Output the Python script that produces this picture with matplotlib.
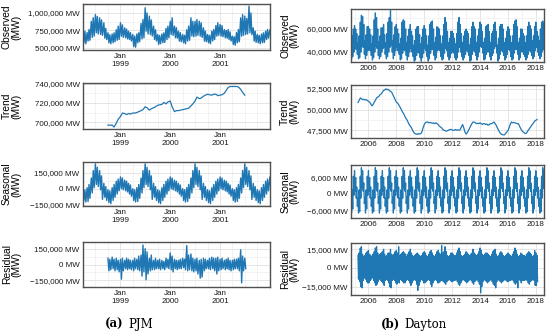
import matplotlib
matplotlib.use("Agg")
import matplotlib.pyplot as plt
import matplotlib.dates as mdates
from matplotlib.ticker import FuncFormatter, FixedLocator, AutoMinorLocator
import pandas as pd

# ---------------- PJM (left column), values in thousands of MW ----------------
# observed: semi-monthly high / low of the hourly load, Apr 1998 .. Jan 2002
pjmObsHi = [700, 740, 720, 764, 880, 931, 978, 950, 931, 900, 860, 780, 717, 690, 700, 717, 760, 812,
            860, 830, 788, 770, 740, 720, 693, 670, 700, 717, 850, 907, 1074, 1000, 955, 900, 812, 760, 693, 680, 700, 717, 780, 812,
            880, 931, 812, 790, 740, 720, 693, 680, 760, 812, 931, 880, 880, 907, 883, 860, 788, 740, 693, 680, 740, 764, 820, 860,
            836, 820, 764, 750, 764, 730, 669, 660, 720, 764, 930, 978, 955, 920, 1098, 1000, 788, 740, 693, 680, 700, 717, 740, 764,
            760]
pjmObsLo = [574, 560, 598, 610, 650, 669, 717, 700, 693, 680, 640, 621, 574, 560, 574, 590, 610, 621,
            669, 650, 645, 630, 621, 600, 520, 510, 574, 590, 630, 645, 740, 700, 693, 670, 621, 600, 550, 560, 574, 580, 620, 645,
            693, 680, 645, 640, 598, 590, 574, 560, 598, 610, 669, 660, 669, 680, 669, 650, 598, 590, 574, 560, 600, 621, 669, 680,
            669, 660, 645, 640, 621, 600, 550, 540, 574, 590, 669, 680, 693, 700, 717, 690, 598, 580, 574, 560, 574, 580, 621, 640,
            660]

# trend: semi-monthly, Oct 1998 .. Jul 2001
pjmTrend = [697, 697, 697, 695, 699, 703,
            706, 709.5, 709, 708, 709, 708.5, 709.5, 709.5, 710, 711, 712, 713, 716, 715, 712.5, 714, 715, 716, 717.5, 718, 718.5, 720.5, 719, 721,
            722, 716, 711, 712, 712, 712.5, 713, 713.5, 714, 714.5, 717, 719, 722, 726, 724.5, 725, 727, 728, 729, 728.5, 728, 729, 729, 727.5,
            728, 728.5, 730, 733, 736, 737, 737, 737, 737, 736.5, 734, 731, 728]

# seasonal: one yearly profile, high / low for each half month (Jan 1, Jan 15, ..., Dec 15)
pjmSeasHi = [110, 100, 80, 70, 50, 35, 0, -10, 10, 40, 100, 170, 233, 200, 170, 120, 50, 20, -10, -20, 10, 40, 70, 90]
pjmSeasLo = [0, -10, -20, -30, -50, -70, -110, -125, -120, -90, -40, 10, 40, 20, -10, -100, -80, -110, -130, -140, -110, -80, -50, -20]

# residual: semi-monthly high / low, Oct 1998 .. Jul 2001
pjmResHi = [60, 50, 70, 50, 60, 40,
            50, 60, 40, 60, 50, 40, 40, 60, 50, 80, 90, 185, 150, 120, 60, 90, 40, 60, 40, 50, 40, 30, 60, 50,
            110, 80, 50, 40, 40, 50, 60, 50, 180, 90, 100, 60, 50, 60, 40, 50, 60, 50, 40, 60, 70, 60, 60, 70,
            50, 60, 40, 50, 60, 40, 40, 50, 50, 60, 140, 80, 60]
pjmResLo = [-60, -50, -40, -60, -50, -70,
            -140, -60, -40, -50, -40, -50, -60, -40, -50, -60, -110, -70, -145, -90, -60, -50, -50, -40, -40, -50, -40, -50, -30, -40,
            -50, -70, -40, -50, -40, -40, -30, -50, -60, -50, -60, -70, -60, -90, -130, -120, -60, -40, -40, -50, -40, -60, -90, -60,
            -50, -40, -50, -40, -50, -60, -50, -40, -40, -60, -175, -60, -40]

# ---------------- Dayton (right column), values in MW ----------------
# observed: monthly high / low, Oct 2004 .. Aug 2018 (thousands of MW)
daytonObsHi = [50, 54, 60,
               63, 60, 56, 48, 54, 66, 72, 71, 64, 50, 55, 62,
               62, 60, 55, 47, 54, 68, 74, 70, 60, 49, 54, 61,
               61, 64, 55, 48, 56, 66, 70, 76, 66, 50, 55, 62,
               64, 60, 56, 47, 52, 66, 68, 67, 60, 48, 54, 60,
               64, 58, 54, 46, 50, 60, 62, 62, 55, 47, 53, 60,
               63, 60, 54, 46, 54, 64, 66, 67, 60, 48, 53, 62,
               61, 60, 54, 47, 54, 64, 70, 66, 58, 48, 52, 58,
               58, 56, 52, 47, 56, 66, 70, 64, 56, 48, 54, 58,
               60, 58, 56, 46, 52, 62, 66, 62, 60, 48, 54, 60,
               66, 64, 58, 48, 52, 62, 63, 64, 58, 48, 56, 58,
               64, 66, 58, 46, 52, 62, 64, 64, 60, 48, 52, 58,
               62, 60, 54, 48, 54, 64, 67, 68, 62, 48, 52, 60,
               60, 56, 54, 48, 54, 62, 66, 63, 60, 50, 54, 62,
               66, 58, 54, 50, 60, 66, 67, 65]
daytonObsLo = [34, 36, 40,
               43, 42, 38, 34, 35, 40, 45, 44, 38, 34, 37, 41,
               42, 41, 37, 33, 35, 40, 45, 43, 37, 34, 36, 40,
               43, 44, 38, 34, 36, 40, 44, 46, 40, 34, 37, 41,
               44, 41, 38, 33, 34, 39, 42, 41, 37, 33, 36, 40,
               43, 40, 36, 32, 33, 37, 40, 39, 35, 32, 35, 39,
               43, 41, 36, 32, 34, 39, 42, 42, 37, 33, 35, 41,
               42, 41, 36, 33, 34, 39, 43, 41, 36, 33, 35, 39,
               40, 39, 35, 33, 35, 40, 44, 40, 36, 33, 35, 38,
               41, 40, 37, 32, 33, 38, 41, 40, 37, 33, 36, 40,
               45, 44, 39, 33, 34, 38, 40, 40, 36, 33, 37, 39,
               43, 45, 39, 32, 34, 38, 41, 40, 37, 33, 35, 38,
               42, 41, 36, 33, 34, 39, 42, 42, 38, 33, 35, 40,
               40, 38, 36, 33, 35, 38, 41, 40, 37, 34, 36, 41,
               44, 40, 37, 34, 36, 40, 42, 41]

# trend: monthly, Apr 2005 .. Feb 2018
daytonTrend = [50850, 51100, 51400, 51300, 51200, 51250, 51150, 51200, 51100,
               51000, 50900, 50700, 50450, 50600, 50900, 51100, 51400, 51500, 51600, 51800, 51900,
               52100, 52300, 52350, 52500, 52400, 52450, 52300, 52200, 52100, 51800, 51500, 51200,
               50900, 50800, 50600, 50350, 50100, 49800, 49570, 49300, 49000, 48800, 48500, 48200,
               48000, 47800, 47500, 47250, 47100, 47050, 47000, 47100, 47050, 47100, 47300, 47800,
               48200, 48400, 48500, 48500, 48400, 48450, 48400, 48350, 48400, 48300, 48400, 48300,
               48200, 48000, 47900, 47800, 47600, 47500, 47450, 47400, 47450, 47500, 47600, 47600,
               47550, 47500, 47500, 47600, 47500, 47550, 47500, 47600, 47900, 48200, 47800, 47300,
               47050, 47200, 47450, 47700, 48000, 48300, 48500, 48500, 48400, 48300, 48350, 48300,
               48400, 48300, 48200, 48300, 48300, 48200, 48250, 48100, 48200, 48300, 48300, 48400,
               48500, 48300, 48100, 47800, 47500, 47250, 47050, 47000, 46950, 46950, 47100, 47300,
               47450, 47800, 48200, 48500, 48400, 48450, 48400, 48350, 48300, 48300, 48000, 47700,
               47450, 47300, 47200, 47100, 47150, 47400, 47600, 47800, 48000, 48200, 48400, 48600,
               48700, 48800]

# seasonal: one yearly profile, monthly high / low (Jan .. Dec)
daytonSeasHi = [8500, 6000, 2500, -1500, 1500, 6500, 9600, 8500, 4000, -1000, 1500, 6500]
daytonSeasLo = [1000, -1500, -4500, -7000, -6500, -1500, 2000, 1000, -3500, -7000, -5500, -500]

# residual: monthly high / low, Apr 2005 .. Feb 2018 (thousands of MW)
daytonResHi = [10, 12, 16, 17, 11, 9, 10, 12, 13,
               14, 11, 10, 9, 11, 13, 16, 17, 12, 10, 11, 12,
               13, 15, 11, 9, 10, 12, 12, 15, 11, 10, 11, 13,
               14, 12, 17, 10, 11, 12, 13, 12, 11, 9, 11, 13,
               15, 12, 10, 9, 10, 11, 12, 11, 10, 9, 10, 12,
               13, 12, 10, 9, 11, 13, 14, 12, 10, 9, 11, 13,
               14, 12, 11, 18, 12, 13, 17, 13, 10, 9, 10, 12,
               12, 11, 10, 10, 12, 14, 16, 13, 10, 9, 10, 11,
               13, 12, 11, 10, 11, 12, 15, 12, 11, 10, 11, 13,
               16, 14, 11, 10, 11, 12, 12, 11, 10, 9, 11, 13,
               14, 15, 11, 9, 10, 12, 13, 12, 10, 9, 10, 11,
               12, 11, 10, 9, 11, 13, 16, 14, 11, 9, 10, 12,
               11, 10, 10, 9, 11, 12, 13, 12, 11, 9, 10, 14,
               12, 10]
daytonResLo = [-9, -11, -15, -16, -10, -8, -9, -11, -12,
               -12, -10, -9, -8, -10, -12, -14, -13, -11, -9, -10, -11,
               -12, -14, -10, -9, -10, -12, -15, -16, -10, -9, -10, -12,
               -13, -11, -12, -9, -10, -11, -12, -12, -10, -9, -10, -12,
               -14, -12, -10, -9, -10, -13, -18, -14, -11, -9, -10, -12,
               -12, -11, -10, -9, -10, -13, -15, -12, -10, -9, -10, -12,
               -12, -11, -10, -10, -11, -12, -13, -11, -10, -9, -10, -11,
               -11, -10, -10, -9, -11, -13, -14, -12, -10, -9, -10, -11,
               -12, -11, -10, -9, -10, -12, -13, -11, -10, -9, -11, -13,
               -20, -15, -11, -9, -10, -11, -12, -11, -10, -9, -11, -13,
               -14, -16, -11, -9, -10, -11, -12, -11, -10, -9, -10, -11,
               -11, -10, -10, -9, -10, -12, -13, -12, -16, -9, -10, -12,
               -10, -10, -10, -9, -10, -12, -13, -11, -10, -9, -10, -14,
               -14, -11]

rowLabels = ["Observed\n(MW)", "Trend\n(MW)", "Seasonal\n(MW)", "Residual\n(MW)"]
pjmYTicks = [[500000, 750000, 1000000], [700000, 720000, 740000],
             [-150000, 0, 150000], [-150000, 0, 150000]]
daytonYTicks = [[40000, 60000], [47500, 50000, 52500], [-6000, 0, 6000], [-15000, 0, 15000]]
pjmYears = [1999, 2000, 2001]

BLUE = "#1f77b4"


def zigzag(dates, hi, lo, gap, scale):
    xs, ys = [], []
    for d, h, l in zip(dates, hi, lo):
        xs += [d, d + gap]
        ys += [h * scale, l * scale]
    return xs, ys


def mwFmt(v, pos):
    s = f"{abs(v):,.0f} MW"
    return ("\u2212" + s) if v < 0 else s


plt.rcParams["font.family"] = ["Liberation Sans", "DejaVu Sans"]
fig = plt.figure(figsize=(5.5, 3.33), dpi=100)

# axes boxes in pixels: (left, top, right, bottom)
pjmBoxes = [(83, 4, 270, 50), (83, 83, 270, 129), (83, 162, 270, 206), (83, 242, 270, 287)]
daytonBoxes = [(351, 9, 544, 62), (351, 85, 544, 138), (351, 165, 544, 218), (351, 243, 544, 295)]
pjmYLims = [(471000, 1128000), (693000, 740600), (-162000, 250000), (-214000, 214000)]
daytonYLims = [(31300, 77400), (46570, 52965), (-8800, 10600), (-21700, 20000)]


def makeAx(box):
    l, t, r, b = box
    return fig.add_axes([l / 550, 1 - b / 333, (r - l) / 550, (b - t) / 333])


def styleAx(ax, ticks, ylim):
    ax.set_ylim(*ylim)
    ax.yaxis.set_major_locator(FixedLocator(ticks))
    ax.yaxis.set_minor_locator(AutoMinorLocator(2))
    ax.yaxis.set_major_formatter(FuncFormatter(mwFmt))
    ax.tick_params(which="both", length=0, labelsize=5.8, pad=2.5, colors="#1a1a1a")
    ax.grid(which="major", color="#e0e0e0", lw=0.6)
    ax.grid(which="minor", color="#efefef", lw=0.5)
    ax.set_axisbelow(True)
    for sp in ax.spines.values():
        sp.set_color("#505050")
        sp.set_linewidth(1.0)


# ---- PJM ----
pjmObsDates = pd.date_range("1998-04-01", "2002-01-01", freq="SMS")
pjmTrendDates = pd.date_range("1998-10-01", periods=len(pjmTrend), freq="SMS")
half = pd.Timedelta(days=7)
slots = [(d.month - 1) * 2 + (1 if d.day >= 15 else 0) for d in pjmObsDates]

pjmAxes = [makeAx(b) for b in pjmBoxes]
x, y = zigzag(pjmObsDates, pjmObsHi, pjmObsLo, half, 1000)
pjmAxes[0].plot(x, y, color=BLUE, lw=1.0)
pjmAxes[1].plot(pjmTrendDates, [v * 1000 for v in pjmTrend], color=BLUE, lw=0.9)
x, y = zigzag(pjmObsDates, [pjmSeasHi[s] for s in slots], [pjmSeasLo[s] for s in slots], half, 1000)
pjmAxes[2].plot(x, y, color=BLUE, lw=1.0)
x, y = zigzag(pjmTrendDates, pjmResHi, pjmResLo, half, 1000)
pjmAxes[3].plot(x, y, color=BLUE, lw=1.0)

for i, ax in enumerate(pjmAxes):
    ax.set_xlim(pd.Timestamp("1998-04-01"), pd.Timestamp("2002-01-02"))
    ax.set_xticks([pd.Timestamp(f"{yr}-01-01") for yr in pjmYears])
    ax.xaxis.set_minor_locator(mdates.MonthLocator(bymonth=[4, 7, 10]))
    ax.xaxis.set_major_formatter(mdates.DateFormatter("%b\n%Y"))
    styleAx(ax, pjmYTicks[i], pjmYLims[i])
    ax.set_ylabel(rowLabels[i], fontsize=7.4, linespacing=0.95)
    ax.yaxis.set_label_coords(-0.33, 0.5)

# ---- Dayton ----
daytonObsDates = pd.date_range("2004-10-01", periods=len(daytonObsHi), freq="MS")
daytonTrendDates = pd.date_range("2005-04-01", periods=len(daytonTrend), freq="MS")
daytonResDates = pd.date_range("2005-04-01", periods=len(daytonResHi), freq="MS")
gap = pd.Timedelta(days=15)

daytonAxes = [makeAx(b) for b in daytonBoxes]
x, y = zigzag(daytonObsDates, daytonObsHi, daytonObsLo, gap, 1000)
daytonAxes[0].plot(x, y, color=BLUE, lw=0.9)
daytonAxes[1].plot(daytonTrendDates, daytonTrend, color=BLUE, lw=0.9)
x, y = zigzag(daytonObsDates, [daytonSeasHi[d.month - 1] for d in daytonObsDates],
              [daytonSeasLo[d.month - 1] for d in daytonObsDates], gap, 1)
daytonAxes[2].plot(x, y, color=BLUE, lw=0.9)
x, y = zigzag(daytonResDates, daytonResHi, daytonResLo, gap, 1000)
daytonAxes[3].plot(x, y, color=BLUE, lw=0.9)

for i, ax in enumerate(daytonAxes):
    ax.set_xlim(pd.Timestamp("2004-10-01"), pd.Timestamp("2018-08-03"))
    ax.xaxis.set_major_locator(mdates.YearLocator(2))
    ax.xaxis.set_minor_locator(mdates.YearLocator(1))
    ax.xaxis.set_major_formatter(mdates.DateFormatter("%Y"))
    styleAx(ax, daytonYTicks[i], daytonYLims[i])
    ax.set_ylabel(rowLabels[i], fontsize=7.4, linespacing=0.95)
    ax.yaxis.set_label_coords(-0.265, 0.5)

# captions
capFont = ["DejaVu Serif"]
fig.text(124 / 550, 0.027, "(a)", ha="right", va="center", fontsize=8.5, fontweight="bold", family=capFont)
fig.text(128 / 550, 0.027, "PJM", ha="left", va="center", fontsize=8.5, family=capFont)
fig.text(400 / 550, 0.027, "(b)", ha="right", va="center", fontsize=8.5, fontweight="bold", family=capFont)
fig.text(404 / 550, 0.027, "Dayton", ha="left", va="center", fontsize=8.5, family=capFont)

fig.savefig("out.png", dpi=100)
